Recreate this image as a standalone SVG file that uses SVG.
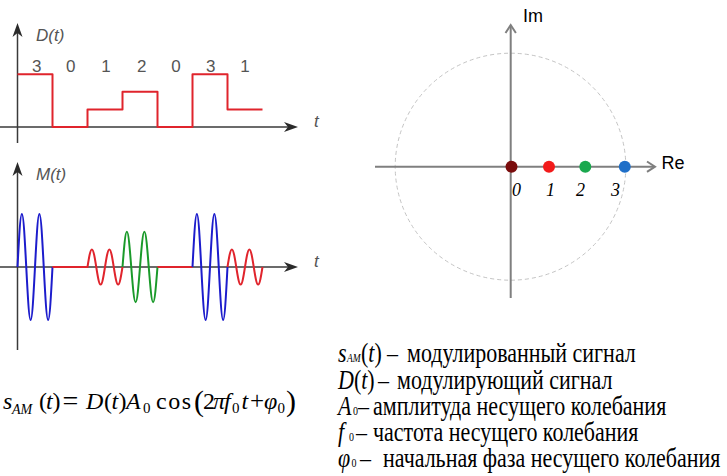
<svg xmlns="http://www.w3.org/2000/svg" width="727" height="476" viewBox="0 0 727 476">
<style>
.ax{stroke:#3a3a3a;stroke-width:1.5;fill:none}
.ah{fill:#2a2a2a}
.lbl{font-family:"Liberation Sans",Arial,sans-serif;font-size:17px;fill:#555;font-style:italic}
.dig{font-family:"Liberation Sans",Arial,sans-serif;font-size:17px;fill:#555;text-anchor:middle}
.sig{fill:none;stroke-width:2;stroke-linejoin:round}
.red{stroke:#e0242c}
.blue{stroke:#1c1ccc}
.green{stroke:#1a9a2a}
.gax{stroke:#7f7f7f;stroke-width:2;fill:none}
.serif{font-family:"Liberation Serif","Times New Roman",serif;font-size:22px;fill:#000}
.f24{font-size:24px}
.it{font-style:italic}
.sans18{font-family:"Liberation Sans",Arial,sans-serif;font-size:18px;fill:#000}
.num{font-family:"Liberation Serif","Times New Roman",serif;font-size:18px;font-style:italic;fill:#000}
</style>
<rect width="727" height="476" fill="#fff"/>

<g id="plot-d">
  <line class="ax" x1="17.5" y1="30" x2="17.5" y2="143"/>
  <line class="ax" x1="0" y1="127" x2="290" y2="127"/>
  <path class="ah" d="M17.5,23 L22.5,37 L17.5,33 L12.5,37 Z"/>
  <path class="ah" d="M298,127 L284,122 L288,127 L284,132 Z"/>
  <text class="lbl" x="36" y="41">D(t)</text>
  <text class="lbl" x="314" y="127">t</text>
  <text class="dig" x="36.7" y="72">3</text>
  <text class="dig" x="70.7" y="72">0</text>
  <text class="dig" x="106" y="72">1</text>
  <text class="dig" x="141.7" y="72">2</text>
  <text class="dig" x="176" y="72">0</text>
  <text class="dig" x="210.7" y="72">3</text>
  <text class="dig" x="245" y="72">1</text>
  <path class="sig red" d="M17.5,74.2 H52.5 V127 H87.5 V109.4 H122.5 V91.8 H157.5 V127 H192.5 V74.2 H227.5 V109.4 H262.5"/>
</g>

<g id="plot-m">
  <line class="ax" x1="17.5" y1="169" x2="17.5" y2="350"/>
  <line class="ax" x1="0" y1="267" x2="290" y2="267"/>
  <path class="ah" d="M17.5,162 L22.5,176 L17.5,172 L12.5,176 Z"/>
  <path class="ah" d="M298,267 L284,262 L288,267 L284,272 Z"/>
  <text class="lbl" x="36" y="180">M(t)</text>
  <text class="lbl" x="314" y="267">t</text>
  <path class="sig blue" d="M17.5,267 c1.427,-27.15 2.791,-53 4.375,-53 c1.584,0 2.948,25.85 4.375,53 c1.427,27.15 2.791,53 4.375,53 c1.584,0 2.948,-25.85 4.375,-53 c1.427,-27.15 2.791,-53 4.375,-53 c1.584,0 2.948,25.85 4.375,53 c1.427,27.15 2.791,53 4.375,53 c1.584,0 2.948,-25.85 4.375,-53"/>
  <path class="sig red" d="M52.5,267 H87.5 c1.427,-9.02 2.791,-17.6 4.375,-17.6 c1.584,0 2.948,8.58 4.375,17.6 c1.427,9.02 2.791,17.6 4.375,17.6 c1.584,0 2.948,-8.58 4.375,-17.6 c1.427,-9.02 2.791,-17.6 4.375,-17.6 c1.584,0 2.948,8.58 4.375,17.6 c1.427,9.02 2.791,17.6 4.375,17.6 c1.584,0 2.948,-8.58 4.375,-17.6"/>
  <path class="sig green" d="M122.5,267 c1.427,-18.03 2.791,-35.2 4.375,-35.2 c1.584,0 2.948,17.17 4.375,35.2 c1.427,18.03 2.791,35.2 4.375,35.2 c1.584,0 2.948,-17.17 4.375,-35.2 c1.427,-18.03 2.791,-35.2 4.375,-35.2 c1.584,0 2.948,17.17 4.375,35.2 c1.427,18.03 2.791,35.2 4.375,35.2 c1.584,0 2.948,-17.17 4.375,-35.2"/>
  <path class="sig red" d="M157.5,267 H192.5"/>
  <path class="sig blue" d="M192.5,267 c1.427,-27.15 2.791,-53 4.375,-53 c1.584,0 2.948,25.85 4.375,53 c1.427,27.15 2.791,53 4.375,53 c1.584,0 2.948,-25.85 4.375,-53 c1.427,-27.15 2.791,-53 4.375,-53 c1.584,0 2.948,25.85 4.375,53 c1.427,27.15 2.791,53 4.375,53 c1.584,0 2.948,-25.85 4.375,-53"/>
  <path class="sig red" d="M227.5,267 c1.427,-9.02 2.791,-17.6 4.375,-17.6 c1.584,0 2.948,8.58 4.375,17.6 c1.427,9.02 2.791,17.6 4.375,17.6 c1.584,0 2.948,-8.58 4.375,-17.6 c1.427,-9.02 2.791,-17.6 4.375,-17.6 c1.584,0 2.948,8.58 4.375,17.6 c1.427,9.02 2.791,17.6 4.375,17.6 c1.584,0 2.948,-8.58 4.375,-17.6"/>
</g>

<g id="constellation">
  <ellipse cx="510.5" cy="166.7" rx="115.3" ry="113.5" fill="none" stroke="#c4c4c4" stroke-width="1" stroke-dasharray="4 3"/>
  <line class="gax" x1="375" y1="166.7" x2="654" y2="166.7"/>
  <line class="gax" x1="510.7" y1="26" x2="510.7" y2="298"/>
  <path class="gax" d="M647,161.5 L655,166.7 L647,171.9"/>
  <path class="gax" d="M505.5,33 L510.7,25 L515.9,33"/>
  <text class="sans18" x="523" y="22">Im</text>
  <text class="sans18" x="661.5" y="168.5">Re</text>
  <circle cx="511.5" cy="166.7" r="6" fill="#7a0c0c"/>
  <circle cx="549" cy="166.7" r="6" fill="#f21a1a"/>
  <circle cx="585.3" cy="166.7" r="6" fill="#1aa84e"/>
  <circle cx="624.8" cy="166.7" r="6" fill="#1f6fc8"/>
  <text class="num" x="512" y="196">0</text>
  <text class="num" x="546" y="196">1</text>
  <text class="num" x="576" y="196">2</text>
  <text class="num" x="611" y="196">3</text>
</g>

<g id="formula" class="serif f24">
  <text y="409"><tspan class="it" x="3">s</tspan><tspan class="it" x="12" y="414" font-size="14">AM</tspan><tspan x="39" y="409">(</tspan><tspan class="it" x="46">t</tspan><tspan x="52.5">)</tspan><tspan x="62.5" y="410" font-size="28">=</tspan><tspan class="it" x="86" y="409">D</tspan><tspan x="104">(</tspan><tspan class="it" x="111.5">t</tspan><tspan x="118.5">)</tspan><tspan class="it" x="126">A</tspan><tspan x="143" y="413" font-size="15">0</tspan><tspan x="156" y="409" textLength="35" lengthAdjust="spacing">cos</tspan><tspan x="194" y="411" font-size="30">(</tspan><tspan x="203" y="409">2</tspan><tspan class="it" x="213">π</tspan><tspan class="it" x="224">f</tspan><tspan x="232" y="413" font-size="15">0</tspan><tspan class="it" x="241.5" y="409">t</tspan><tspan x="250" font-size="25">+</tspan><tspan class="it" x="264">φ</tspan><tspan x="277.5" y="413" font-size="15">0</tspan><tspan x="286" y="411" font-size="30">)</tspan></text>
</g>

<g id="legend" class="serif">
  <text transform="translate(338,362) scale(1,1.27)"><tspan class="it" x="0">s</tspan><tspan class="it" x="9" font-size="9.5">AM</tspan><tspan x="23">(</tspan><tspan class="it">t</tspan><tspan>)</tspan><tspan x="49">–</tspan><tspan x="69">модулированный сигнал</tspan></text>
  <text transform="translate(338,388.5) scale(1,1.27)"><tspan class="it" x="0">D</tspan><tspan>(</tspan><tspan class="it">t</tspan><tspan>)</tspan><tspan x="40">–</tspan><tspan x="59">модулирующий сигнал</tspan></text>
  <text transform="translate(338,414.5) scale(1,1.27)"><tspan class="it" x="0">A</tspan><tspan x="15" font-size="10">0</tspan><tspan x="20">–</tspan><tspan x="35">амплитуда несущего колебания</tspan></text>
  <text transform="translate(338,440.5) scale(1,1.27)"><tspan class="it" x="0">f</tspan><tspan x="11" font-size="10">0</tspan><tspan x="18">–</tspan><tspan x="35">частота несущего колебания</tspan></text>
  <text transform="translate(338,467) scale(1,1.27)"><tspan class="it" x="0">φ</tspan><tspan x="13.5" font-size="10">0</tspan><tspan x="22">–</tspan><tspan x="45">начальная фаза несущего колебания</tspan></text>
</g>
</svg>
